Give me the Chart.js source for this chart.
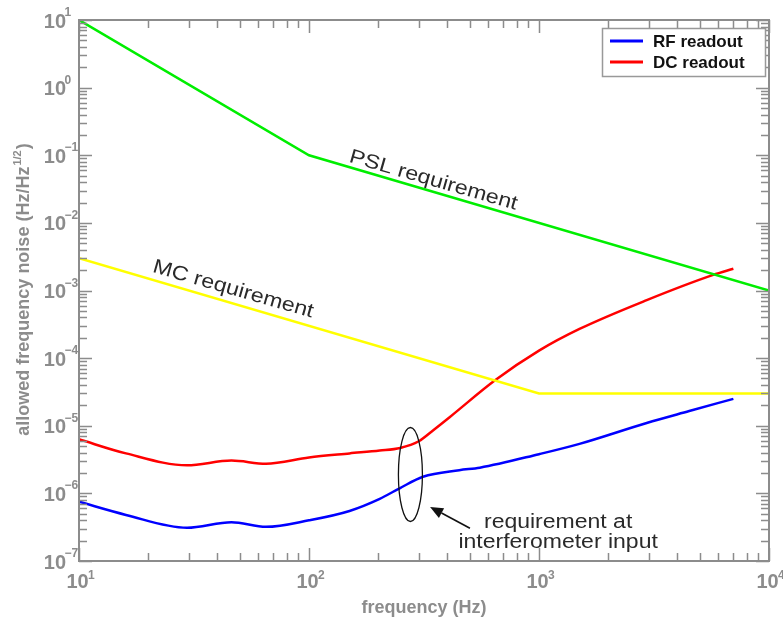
<!DOCTYPE html>
<html>
<head>
<meta charset="utf-8">
<script src="https://cdn.jsdelivr.net/npm/chart.js@4.4.1/dist/chart.umd.min.js"></script>
<style>
  html, body { margin: 0; padding: 0; background: #fff; }
  canvas { display: block; }
</style>
</head>
<body>
<canvas id="chart" width="783" height="621"></canvas>
<script>
// requirement lines (straight segments on log-log)
const pslFreq = [10, 100, 10000];
const pslVals = [10, 0.1, 0.001];
const mcFreq = [10, 1000, 10000];
const mcVals = [3e-3, 3e-5, 3e-5];

// readout noise curves
const dcFreq = [10, 16, 29.5, 46, 65, 100, 150, 203, 249, 300, 347, 410, 644, 1000, 1500, 2940, 5720, 7000];
const dcVals = [6.3e-6, 3.9e-6, 2.6e-6, 3.05e-6, 2.75e-6, 3.4e-6, 3.9e-6, 4.3e-6, 4.7e-6, 5.9e-6, 8.6e-6, 1.35e-5, 4.7e-5, 1.29e-4, 2.7e-4, 7.2e-4, 1.7e-3, 2.1e-3];
const rfFreq = [10, 16, 29.5, 46, 65, 100, 150, 203, 249, 313, 450, 553, 1000, 1500, 2940, 4500, 7000];
const rfVals = [7.5e-7, 4.8e-7, 3.1e-7, 3.75e-7, 3.2e-7, 4.0e-7, 5.5e-7, 8.3e-7, 1.2e-6, 1.76e-6, 2.2e-6, 2.4e-6, 3.8e-6, 5.4e-6, 1.1e-5, 1.65e-5, 2.5e-5];

// decade tick exponents
const xExps = [1, 2, 3, 4];
const yExps = [-7, -6, -5, -4, -3, -2, -1, 0, 1];

const toPoints = (xs, ys) => xs.map((x, i) => ({ x: x, y: ys[i] }));

const FONT = '"Liberation Sans", Arial, Helvetica, sans-serif';
const GREY = '#8c8c8c';

function drawText(ctx, text, x, y, opts) {
  ctx.save();
  ctx.translate(x, y);
  if (opts.angle) ctx.rotate(opts.angle * Math.PI / 180);
  ctx.scale(opts.sx || 1, 1);
  ctx.font = opts.font;
  ctx.fillStyle = opts.color;
  ctx.textAlign = opts.align || 'left';
  ctx.textBaseline = 'alphabetic';
  ctx.fillText(text, 0, 0);
  ctx.restore();
}

const decorations = {
  id: 'decorations',
  afterDatasetsDraw(chart) {
    const ctx = chart.ctx;
    const xs = chart.scales.x, ys = chart.scales.y;
    const a = chart.chartArea;

    // tick marks, all four sides, pointing inwards
    ctx.save();
    ctx.strokeStyle = GREY;
    ctx.lineWidth = 1.5;
    ctx.beginPath();
    for (let e = xExps[0]; e <= xExps[xExps.length - 1]; e++) {
      for (let m = 1; m <= 9; m++) {
        if (e === xExps[xExps.length - 1] && m > 1) break;
        const px = Math.round(xs.getPixelForValue(m * Math.pow(10, e))) + 0.5;
        const len = m === 1 ? 13 : 8;
        ctx.moveTo(px, a.bottom); ctx.lineTo(px, a.bottom - len);
        ctx.moveTo(px, a.top); ctx.lineTo(px, a.top + len);
      }
    }
    for (let e = yExps[0]; e <= yExps[yExps.length - 1]; e++) {
      for (let m = 1; m <= 9; m++) {
        if (e === yExps[yExps.length - 1] && m > 1) break;
        const py = Math.round(ys.getPixelForValue(m * Math.pow(10, e))) + 0.5;
        const len = m === 1 ? 13 : 8;
        ctx.moveTo(a.left, py); ctx.lineTo(a.left + len, py);
        ctx.moveTo(a.right, py); ctx.lineTo(a.right - len, py);
      }
    }
    ctx.stroke();

    // frame
    ctx.lineWidth = 2;
    ctx.strokeRect(a.left, a.top, a.right - a.left, a.bottom - a.top);
    ctx.restore();

    // tick labels
    const base = 'bold 20px ' + FONT;
    const sup = 'bold 12px ' + FONT;
    const sign = e => (e < 0 ? '\u2212' + (-e) : String(e));
    xExps.forEach(e => {
      const px = xs.getPixelForValue(Math.pow(10, e));
      drawText(ctx, '10', px - 1.5, a.bottom + 27, { font: base, color: GREY, align: 'center' });
      drawText(ctx, sign(e), px + 9, a.bottom + 18, { font: sup, color: GREY });
    });
    yExps.forEach(e => {
      const py = ys.getPixelForValue(Math.pow(10, e));
      drawText(ctx, '10', 66, py + 7.5, { font: base, color: GREY, align: 'right' });
      drawText(ctx, sign(e), 64.5, py - 4, { font: sup, color: GREY });
    });

    // axis titles
    const title = 'bold 18px ' + FONT;
    drawText(ctx, 'frequency (Hz)', (a.left + a.right) / 2, 613, { font: title, color: GREY, align: 'center' });
    ctx.save();
    ctx.translate(29, (a.top + a.bottom) / 2);
    ctx.rotate(-Math.PI / 2);
    ctx.font = title;
    const t1 = 'allowed frequency noise (Hz/Hz';
    const w1 = ctx.measureText(t1).width;
    ctx.font = 'bold 11px ' + FONT;
    const w2 = ctx.measureText('1/2').width;
    ctx.font = title;
    const w3 = ctx.measureText(')').width;
    const x0 = -(w1 + w2 + w3) / 2;
    ctx.fillStyle = GREY;
    ctx.textBaseline = 'alphabetic';
    ctx.fillText(t1, x0, 0);
    ctx.font = 'bold 11px ' + FONT;
    ctx.fillText('1/2', x0 + w1 + 1, -8);
    ctx.font = title;
    ctx.fillText(')', x0 + w1 + w2 + 2, 0);
    ctx.restore();

    // curve labels
    const ann = '20px ' + FONT;
    drawText(ctx, 'PSL requirement', xs.getPixelForValue(148), ys.getPixelForValue(0.080),
      { font: ann, color: '#2a2a2a', angle: 16, sx: 1.16 });
    drawText(ctx, 'MC requirement', xs.getPixelForValue(20.7), ys.getPixelForValue(1.89e-3),
      { font: ann, color: '#2a2a2a', angle: 16, sx: 1.16 });

    // ellipse marking the interferometer input requirement
    ctx.save();
    ctx.strokeStyle = '#111';
    ctx.lineWidth = 1.3;
    ctx.beginPath();
    ctx.ellipse(xs.getPixelForValue(276), ys.getPixelForValue(1.9e-6), 12, 47, 0, 0, Math.PI * 2);
    ctx.stroke();

    // arrow
    const tx = xs.getPixelForValue(336), ty = ys.getPixelForValue(6.3e-7);
    const sx = xs.getPixelForValue(501), sy = ys.getPixelForValue(3.05e-7);
    const ang = Math.atan2(ty - sy, tx - sx);
    const hl = 13, hw = 5.5;
    const bx = tx - hl * Math.cos(ang), by = ty - hl * Math.sin(ang);
    ctx.lineWidth = 1.6;
    ctx.beginPath();
    ctx.moveTo(sx, sy); ctx.lineTo(bx, by);
    ctx.stroke();
    ctx.fillStyle = '#111';
    ctx.beginPath();
    ctx.moveTo(tx, ty);
    ctx.lineTo(bx + hw * Math.sin(ang), by - hw * Math.cos(ang));
    ctx.lineTo(bx - hw * Math.sin(ang), by + hw * Math.cos(ang));
    ctx.closePath();
    ctx.fill();
    ctx.restore();

    const cx = xs.getPixelForValue(1211);
    drawText(ctx, 'requirement at', cx, ys.getPixelForValue(3.05e-7), { font: ann, color: '#2a2a2a', align: 'center', sx: 1.15 });
    drawText(ctx, 'interferometer input', cx, ys.getPixelForValue(1.55e-7), { font: ann, color: '#2a2a2a', align: 'center', sx: 1.15 });

    // legend box
    const lg = [chart.data.datasets[2], chart.data.datasets[3]];
    ctx.save();
    ctx.fillStyle = '#fff';
    ctx.strokeStyle = '#999';
    ctx.lineWidth = 1.5;
    ctx.fillRect(602, 28, 163, 48);
    ctx.strokeRect(602.5, 28.5, 163, 48);
    lg.forEach((ds, i) => {
      const y = 41 + i * 21;
      ctx.strokeStyle = ds.borderColor;
      ctx.lineWidth = 3;
      ctx.beginPath();
      ctx.moveTo(610, y); ctx.lineTo(643, y);
      ctx.stroke();
      ctx.font = 'bold 17px ' + FONT;
      ctx.fillStyle = '#111';
      ctx.textBaseline = 'middle';
      ctx.fillText(ds.label, 653, y + 1);
    });
    ctx.restore();
  }
};

new Chart(document.getElementById('chart'), {
  type: 'line',
  data: {
    datasets: [
      { label: 'PSL requirement', data: toPoints(pslFreq, pslVals), borderColor: '#00ee00', tension: 0 },
      { label: 'MC requirement', data: toPoints(mcFreq, mcVals), borderColor: '#ffff00', tension: 0 },
      { label: 'RF readout', data: toPoints(rfFreq, rfVals), borderColor: '#0000ff', cubicInterpolationMode: 'monotone' },
      { label: 'DC readout', data: toPoints(dcFreq, dcVals), borderColor: '#ff0000', cubicInterpolationMode: 'monotone' }
    ]
  },
  options: {
    responsive: false,
    animation: false,
    layout: { padding: { left: 79, right: 14, top: 20, bottom: 60 } },
    elements: {
      point: { radius: 0 },
      line: { borderWidth: 2.5, fill: false }
    },
    plugins: { legend: { display: false }, tooltip: { enabled: false } },
    scales: {
      x: { type: 'logarithmic', min: 10, max: 10000, display: false },
      y: { type: 'logarithmic', min: 1e-7, max: 10, display: false }
    }
  },
  plugins: [decorations]
});
</script>
</body>
</html>
